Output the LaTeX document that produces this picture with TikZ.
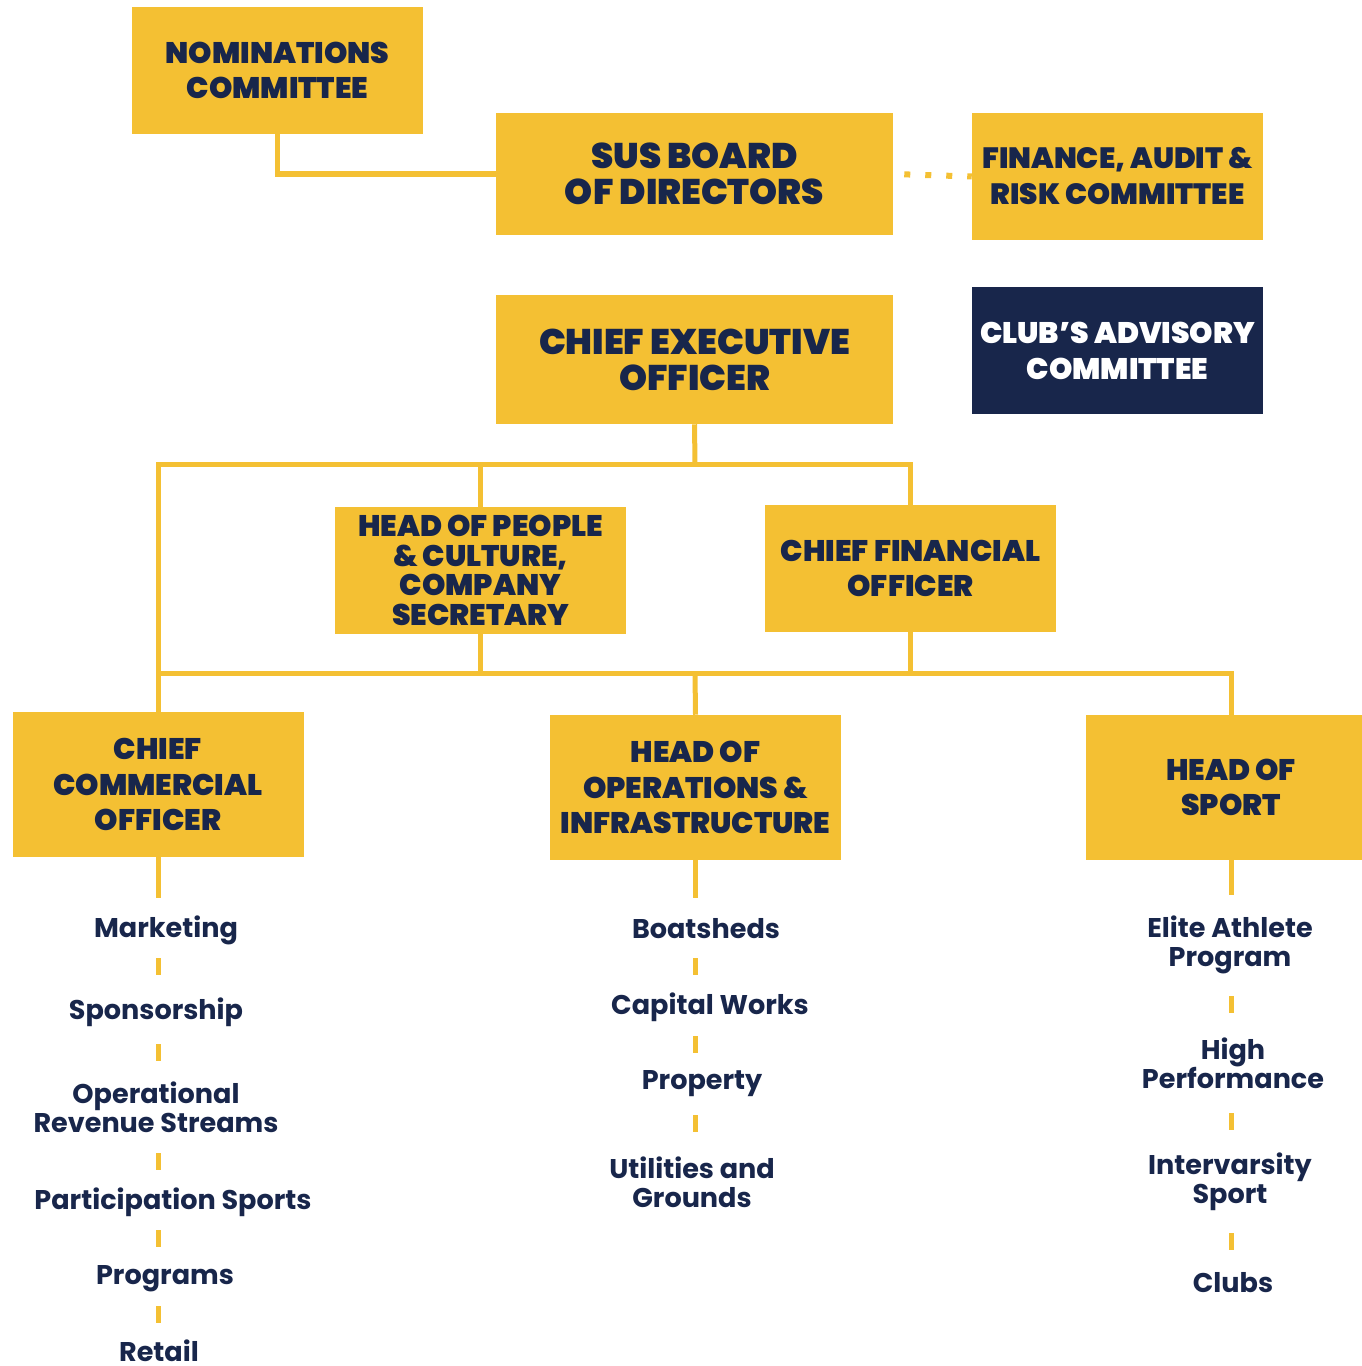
\documentclass[tikz,border=0pt]{standalone}
\usepackage{fontspec}
\setmainfont{Poppins}
\newfontfamily\headfont{Poppins Black}
\newfontfamily\itemfont{Poppins Bold}
\definecolor{susyellow}{HTML}{F4C033}
\definecolor{susnavy}{HTML}{18264B}
\tikzset{
  box/.style={fill=susyellow, text=susnavy, align=center, inner sep=0pt,
    font=\headfont\fontsize{22.3}{26.5}\selectfont,
    minimum width=291*0.75pt, minimum height=127*0.75pt},
  big box/.style={box, font=\headfont\fontsize{26.7}{27}\selectfont,
    minimum width=397*0.75pt},
  item/.style={text=susnavy, align=center, inner sep=0pt,
    font=\itemfont\fontsize{20.3}{22}\selectfont},
  link/.style={draw=susyellow, line width=3.75pt},
  tick/.style={draw=susyellow, line width=3.75pt},
  dots/.style={draw=susyellow, line width=4.5pt,
    dash pattern=on 4.5pt off 11.25pt, dash phase=7.5pt}
}
\begin{document}
\begin{tikzpicture}[x=0.75pt, y=-0.75pt]
  \useasboundingbox (0,0) rectangle (1361,1366);

  % board level
  \node[box] (nom) at (277.5,70.5) {NOMINATIONS\\COMMITTEE};
  \node[big box, minimum height=122*0.75pt] (board) at (694.5,174) {SUS BOARD\\OF DIRECTORS};
  \node[box, font=\headfont\fontsize{22}{27}\selectfont] (fin) at (1117.5,176.5) {FINANCE, AUDIT \&\\RISK COMMITTEE};
  \draw[link] (nom.south) |- (board.west);
  \draw[dots] (board.east) -- (fin.west);

  % executive
  \node[big box, minimum height=129*0.75pt] (ceo) at (694.5,359.5) {CHIEF EXECUTIVE\\OFFICER};
  \node[box, fill=susnavy, text=white, font=\headfont\fontsize{22.3}{27}\selectfont] (club) at (1117.5,350.5) {CLUB’S ADVISORY\\COMMITTEE};
  \node[box, font=\headfont\fontsize{22.3}{22.3}\selectfont] (hop) at (480.5,570.5) {HEAD OF PEOPLE\\\& CULTURE,\\COMPANY\\SECRETARY};
  \node[box] (cfo) at (910.5,568.5) {CHIEF FINANCIAL\\OFFICER};

  \coordinate (bus1) at (695,464);
  \coordinate (bus2) at (695,673);

  % managers
  \node[box, minimum height=145*0.75pt] (cco) at (158,784.5) {CHIEF\\COMMERCIAL\\OFFICER};
  \node[box, minimum height=145*0.75pt] (ops) at (695.5,787.5) {HEAD OF\\OPERATIONS \&\\INFRASTRUCTURE};
  \node[box, minimum height=145*0.75pt] (sport) at (1231,787.5) {HEAD OF\\SPORT};

  \draw[link] (ceo.south) -- (bus1);
  \draw[link] (cco.north) |- (bus1) -| (cfo.north);
  \draw[link] (hop.north |- bus1) -- (hop.north);
  \draw[link] (hop.south) -- (hop.south |- bus2);
  \draw[link] (cfo.south) -- (cfo.south |- bus2);
  \draw[link] (cco.north |- bus2) -| (sport.north);
  \draw[link] (bus2) -- (ops.north);

  % teams
  \node[item] (mkt) at (166,930) {Marketing};
  \node[item] (spon) at (156,1012) {Sponsorship};
  \node[item] (opr) at (156,1107) {Operational\\Revenue Streams};
  \node[item] (part) at (173,1202) {Participation Sports};
  \node[item] (prog) at (165,1279) {Programs};
  \node[item] (retail) at (159,1351) {Retail};

  \node[item] (boat) at (706,929) {Boatsheds};
  \node[item] (capw) at (710,1007) {Capital Works};
  \node[item] (prop) at (702,1084) {Property};
  \node[item] (util) at (692,1182) {Utilities and\\Grounds};

  \node[item] (elite) at (1230,945) {Elite Athlete\\Program};
  \node[item] (hiperf) at (1233,1063) {High\\Performance};
  \node[item] (ivs) at (1230,1182) {Intervarsity\\Sport};
  \node[item] (clubs) at (1233,1283) {Clubs};

  \coordinate (stubL) at (158,898);
  \coordinate (stubM) at (695.5,898);
  \coordinate (stubR) at (1231,895);
  \draw[link] (cco.south) -- (stubL);
  \draw[link] (ops.south) -- (stubM);
  \draw[link] (sport.south) -- (stubR);

  \foreach \y in {958,1044,1153,1230,1306}
    \draw[tick] (cco.south |- 0,\y) -- ++(0,17);
  \foreach \y in {958,1036,1115}
    \draw[tick] (ops.south |- 0,\y) -- ++(0,17);
  \foreach \y in {996,1113,1233}
    \draw[tick] (sport.south |- 0,\y) -- ++(0,17);

\end{tikzpicture}
\end{document}
